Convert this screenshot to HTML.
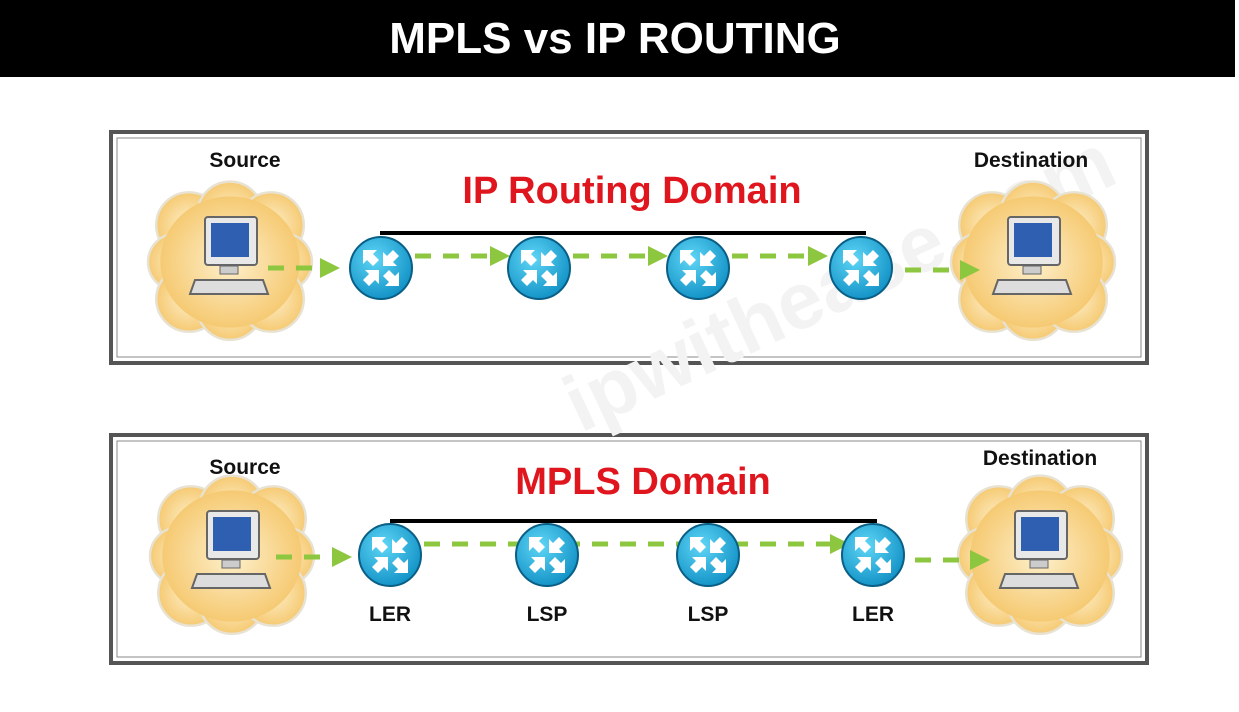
<!DOCTYPE html>
<html><head><style>
body{margin:0;width:1239px;height:707px;background:#fff;overflow:hidden;font-family:"Liberation Sans",sans-serif}
</style></head><body>
<svg width="1239" height="707" xmlns="http://www.w3.org/2000/svg">
<defs>
<radialGradient id="cl" cx="50%" cy="50%" r="55%"><stop offset="0" stop-color="#fdf0cc"/><stop offset="1" stop-color="#f5c66a"/></radialGradient>
<radialGradient id="rt" cx="40%" cy="35%" r="70%"><stop offset="0" stop-color="#5fd6f6"/><stop offset="1" stop-color="#0f8fc4"/></radialGradient>
<g id="cloud">
<g transform="scale(0.82)">
<g fill="url(#cl)" stroke="#e8e2d2" stroke-width="3">
<circle cx="-50" cy="-45" r="40"/><circle cx="0" cy="-58" r="40"/><circle cx="50" cy="-45" r="40"/>
<circle cx="-65" cy="0" r="35"/><circle cx="65" cy="0" r="35"/>
<circle cx="-50" cy="45" r="40"/><circle cx="0" cy="55" r="40"/><circle cx="50" cy="45" r="40"/>
</g>
<ellipse cx="0" cy="0" rx="85" ry="80" fill="url(#cl)"/>
</g>
<rect x="-25" y="-45" width="52" height="48" rx="3" fill="#e8e8e8" stroke="#666" stroke-width="2"/>
<rect x="-19" y="-39" width="38" height="34" fill="#2f5fb0"/>
<rect x="-10" y="4" width="18" height="8" fill="#ccc" stroke="#666"/>
<path d="M-35 18 L33 18 L38 32 L-40 32 Z" fill="#ddd" stroke="#666" stroke-width="2"/>
</g>
<g id="rtr">
<circle r="31" fill="url(#rt)" stroke="#0a5f86" stroke-width="2"/>
<g fill="#fff">
<path d="M-18 -18 L-4 -18 L-8 -14 L-2 -8 L-8 -2 L-14 -8 L-18 -4Z"/>
<path d="M4 -4 L18 -4 L14 -8 L20 -14 L14 -20 L8 -14 L4 -18Z" transform="translate(-2,2)"/>
<path d="M-4 4 L-18 4 L-14 8 L-20 14 L-14 20 L-8 14 L-4 18Z" transform="translate(2,-2)"/>
<path d="M18 18 L4 18 L8 14 L2 8 L8 2 L14 8 L18 4Z"/>
</g>
</g>
<marker id="ar" markerWidth="4" markerHeight="4" refX="2" refY="2" orient="auto"><path d="M0 0L4 2L0 4Z" fill="#8dc63f"/></marker>
</defs>
<rect x="0" y="0" width="1235" height="77" fill="#000"/>
<text x="615" y="53" font-size="44" font-weight="bold" fill="#fff" text-anchor="middle">MPLS vs IP ROUTING</text>

<rect x="111" y="132" width="1036" height="231" fill="#fff" stroke="#555" stroke-width="4"/>
<rect x="117" y="138" width="1024" height="219" fill="none" stroke="#888" stroke-width="1"/>
<rect x="111" y="435" width="1036" height="228" fill="#fff" stroke="#555" stroke-width="4"/>
<rect x="117" y="441" width="1024" height="216" fill="none" stroke="#888" stroke-width="1"/>

<text x="560" y="420" font-size="80" font-weight="bold" fill="#f3f3f3" transform="rotate(-25 600 380)">ipwithease.com</text>

<g font-size="21" font-weight="bold" fill="#111" text-anchor="middle">
<text x="245" y="167">Source</text><text x="1031" y="167">Destination</text>
<text x="245" y="474">Source</text><text x="1040" y="465">Destination</text>
<text x="390" y="621">LER</text><text x="547" y="621">LSP</text><text x="708" y="621">LSP</text><text x="873" y="621">LER</text>
</g>
<g font-size="38" font-weight="bold" fill="#e0161e" text-anchor="middle">
<text x="632" y="203">IP Routing Domain</text>
<text x="643" y="494">MPLS Domain</text>
</g>

<use href="#cloud" x="230" y="262"/><use href="#cloud" x="1033" y="262"/>
<use href="#cloud" x="232" y="556"/><use href="#cloud" x="1040" y="556"/>

<line x1="380" y1="233" x2="866" y2="233" stroke="#000" stroke-width="4"/>
<line x1="390" y1="521" x2="877" y2="521" stroke="#000" stroke-width="4"/>

<g stroke="#8dc63f" stroke-width="5" stroke-dasharray="16 12" fill="none" marker-end="url(#ar)">
<line x1="268" y1="268" x2="330" y2="268"/>
<line x1="415" y1="256" x2="500" y2="256"/>
<line x1="573" y1="256" x2="658" y2="256"/>
<line x1="732" y1="256" x2="818" y2="256"/>
<line x1="905" y1="270" x2="970" y2="270"/>
<line x1="276" y1="557" x2="342" y2="557"/>
<line x1="424" y1="544" x2="840" y2="544"/>
<line x1="915" y1="560" x2="980" y2="560"/>
</g>

<use href="#rtr" x="381" y="268"/><use href="#rtr" x="539" y="268"/><use href="#rtr" x="698" y="268"/><use href="#rtr" x="861" y="268"/>
<use href="#rtr" x="390" y="555"/><use href="#rtr" x="547" y="555"/><use href="#rtr" x="708" y="555"/><use href="#rtr" x="873" y="555"/>
</svg>
</body></html>
